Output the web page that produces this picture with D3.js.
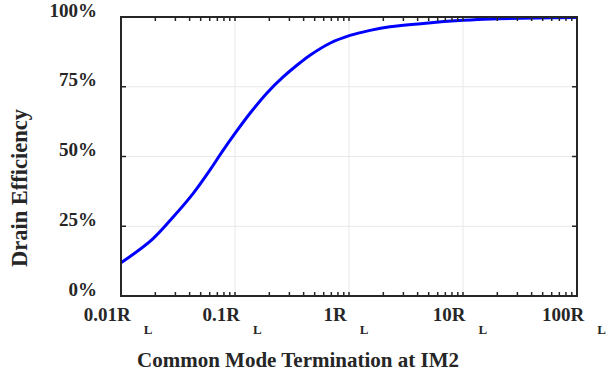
<!DOCTYPE html>
<html>
<head>
<meta charset="utf-8">
<script src="https://cdn.jsdelivr.net/npm/d3@7"></script>
<style>
  html, body { margin: 0; padding: 0; background: #fff; }
  svg { display: block; }
  text { font-family: "Liberation Serif", "Times New Roman", serif; font-weight: bold; fill: #262626; }
</style>
</head>
<body>
<svg id="chart" width="609" height="374"></svg>
<script>
// Data
const terminationRL = [0.01, 0.0186, 0.0288, 0.043, 0.0604, 0.0764, 0.1, 0.1355, 0.19, 0.266, 0.372, 0.455, 0.68, 1.02, 1.53, 2.29, 4.49, 10, 17.4, 100];
const efficiencyPct = [11.9, 20.1, 28.4, 36.8, 45.2, 51.5, 58.3, 65.5, 72.7, 78.6, 83.6, 86.3, 90.6, 93.4, 95.2, 96.5, 97.7, 98.8, 99.3, 99.8];
const xTickValues = [0.01, 0.1, 1, 10, 100];
const xTickLabels = ["0.01R", "0.1R", "1R", "10R", "100R"];
const yTickValues = [0, 25, 50, 75, 100];
const yTickLabels = ["0%", "25%", "50%", "75%", "100%"];
const xTitle = "Common Mode Termination at IM2";
const yTitle = "Drain Efficiency";

const svg = d3.select("#chart");
const L = 121, R = 577, T = 17, B = 296;

const x = d3.scaleLog().domain([0.01, 100]).range([L, R]);
const y = d3.scaleLinear().domain([0, 100]).range([B, T]);

// minor ticks
const minor = [];
for (let e = -2; e < 2; e++) for (let k = 2; k <= 9; k++) minor.push(k * Math.pow(10, e));

// grid
const grid = svg.append("g");
grid.selectAll("line.gx").data(xTickValues.slice(1, -1)).join("line")
  .attr("x1", d => x(d)).attr("x2", d => x(d)).attr("y1", T).attr("y2", B)
  .attr("stroke", "#e8e8e8").attr("stroke-width", 1);
grid.selectAll("line.gy").data(yTickValues.slice(1, -1)).join("line")
  .attr("y1", d => y(d)).attr("y2", d => y(d)).attr("x1", L).attr("x2", R)
  .attr("stroke", "#e8e8e8").attr("stroke-width", 1);

// curve
const line = d3.line().x((d, i) => x(terminationRL[i])).y(d => y(d)).curve(d3.curveCatmullRom.alpha(0.5));
svg.append("path").datum(efficiencyPct).attr("d", line)
  .attr("fill", "none").attr("stroke", "#0000ff").attr("stroke-width", 3)
  .attr("stroke-linejoin", "round");

// ticks (inward)
const tk = svg.append("g").attr("stroke", "#262626").attr("stroke-width", 1.5);
const allX = xTickValues.concat(minor);
allX.forEach(v => {
  tk.append("line").attr("x1", x(v)).attr("x2", x(v)).attr("y1", B).attr("y2", B - 4);
  tk.append("line").attr("x1", x(v)).attr("x2", x(v)).attr("y1", T).attr("y2", T + 4);
});
yTickValues.forEach(v => {
  tk.append("line").attr("x1", L).attr("x2", L + 5).attr("y1", y(v)).attr("y2", y(v));
  tk.append("line").attr("x1", R).attr("x2", R - 5).attr("y1", y(v)).attr("y2", y(v));
});

// box
svg.append("rect").attr("x", L).attr("y", T).attr("width", R - L).attr("height", B - T)
  .attr("fill", "none").attr("stroke", "#262626").attr("stroke-width", 2);

// x tick labels
xTickValues.forEach((v, i) => {
  const t = svg.append("text").attr("x", x(v) - 3).attr("y", 321)
    .attr("text-anchor", "middle").style("font-size", "19px");
  t.append("tspan").text(xTickLabels[i]);
  t.append("tspan").attr("dx", 13).attr("dy", 13).style("font-size", "13px").text("L");
});

// y tick labels
yTickValues.forEach((v, i) => {
  svg.append("text").attr("x", 97).attr("y", y(v) - 0.5)
    .attr("text-anchor", "end").style("font-size", "19px").text(yTickLabels[i]);
});

// titles
svg.append("text").attr("x", 298).attr("y", 367).attr("text-anchor", "middle")
  .style("font-size", "21px").text(xTitle);
svg.append("text").attr("transform", "translate(27,188) rotate(-90)")
  .attr("text-anchor", "middle").style("font-size", "22.5px").text(yTitle);
</script>
</body>
</html>
